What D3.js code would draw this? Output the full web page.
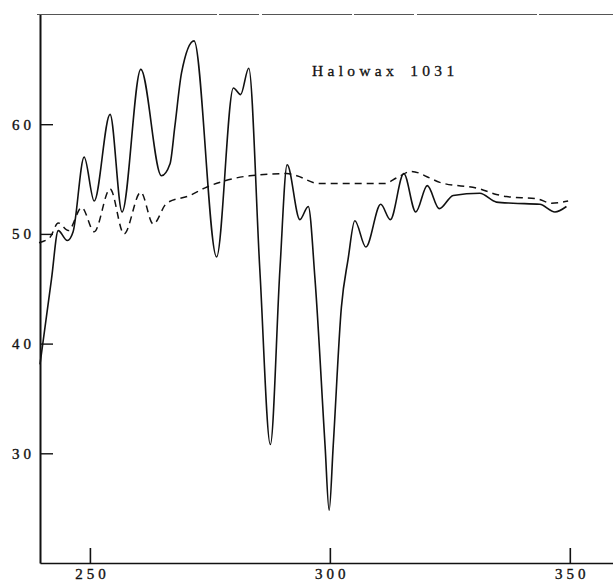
<!DOCTYPE html>
<html>
<head>
<meta charset="utf-8">
<script src="https://cdn.jsdelivr.net/npm/d3@7"></script>
<style>
  html, body { margin: 0; padding: 0; background: #fff; }
  svg { display: block; }
  text { font-family: "Liberation Serif", "DejaVu Serif", serif; fill: #111; }
</style>
</head>
<body>
<svg id="chart" width="613" height="583"></svg>
<script>
// ---- data ----
const title = "Halowax 1031";
const xTicks = [250, 300, 350];
const yTicks = [30, 40, 50, 60];

// solid trace: wavelength, value
const solidX = [239.6, 242.0, 243.4, 245.3, 246.5, 248.8, 250.9, 254.2, 256.7, 260.6,
  264.9, 266.7, 267.7, 269.1, 271.7, 276.4, 279.9, 281.4, 283.1, 285.4,
  287.6, 289.6, 291.1, 293.75, 295.5, 296.9, 299.0, 299.85, 300.7, 302.4,
  303.8, 305.2, 307.5, 310.6, 312.6, 315.4, 317.9, 320.3, 322.8, 325.7,
  331.25, 334.7, 338.2, 343.75, 346.9, 349.3];
const solidY = [38.1, 45.9, 50.3, 49.4, 50.2, 57.0, 53.0, 60.9, 52.0, 65.0,
  55.3, 56.4, 59.8, 64.7, 67.6, 47.9, 63.3, 62.7, 65.1, 46.8,
  30.8, 46.8, 56.3, 51.3, 52.5, 45.9, 30.7, 24.8, 30.7, 43.3,
  47.7, 51.2, 48.8, 52.7, 51.3, 55.5, 52.0, 54.4, 52.3, 53.5,
  53.7, 52.9, 52.8, 52.7, 52.0, 52.5];

// dashed trace
const dashX = [239.4, 241.7, 243.4, 245.5, 248.3, 250.9, 254.2, 257.1, 260.6, 263.2,
  266.0, 270.8, 274.0, 277.8, 283.3, 291.0, 293.1, 297.6, 311.5, 313.9,
  317.0, 320.8, 322.9, 331.25, 334.7, 336.8, 343.1, 346.2, 349.65];
const dashY = [49.2, 49.7, 51.0, 50.3, 52.4, 50.2, 54.1, 50.0, 53.8, 50.9,
  52.8, 53.5, 54.2, 54.8, 55.3, 55.5, 55.3, 54.6, 54.6, 55.1,
  55.7, 55.1, 54.7, 54.1, 53.6, 53.4, 53.2, 52.8, 53.0];

// ---- drawing ----
const svg = d3.select("#chart");
const mLeft = 40, mRight = 613, mTop = 14.5, mBottom = 563;

const x = d3.scaleLinear().domain([239.6, 359]).range([mLeft, mRight]);
const y = d3.scaleLinear().domain([20, 70]).range([mBottom, mTop]);

// top border (faint scanned rule)
svg.append("line")
  .attr("x1", 37).attr("x2", mRight).attr("y1", mTop).attr("y2", mTop)
  .attr("stroke", "#555").attr("stroke-width", 1.1)
  .attr("stroke-dasharray", "180,2,40,3,90,2,60,3,120,2,90");

// x axis
const xAxis = d3.axisBottom(x).tickValues(xTicks).tickSizeInner(-15).tickSizeOuter(0).tickPadding(5);
const gx = svg.append("g").attr("transform", `translate(0,${mBottom})`).call(xAxis);
gx.select(".domain").attr("stroke", "#111").attr("stroke-width", 1.6);
gx.selectAll(".tick line").attr("stroke", "#111").attr("stroke-width", 1.6);
gx.selectAll(".tick text")
  .style("font-family", '"Liberation Serif", serif')
  .style("font-size", "15px").style("letter-spacing", "4px")
  .attr("dx", "2px").attr("fill", "#111")
  .attr("stroke", "#111").attr("stroke-width", 0.35);

// y axis
const yAxis = d3.axisLeft(y).tickValues(yTicks).tickSizeInner(-13).tickSizeOuter(0).tickPadding(5);
const gy = svg.append("g").attr("transform", `translate(${mLeft},0)`).call(yAxis);
gy.select(".domain").attr("stroke", "#111").attr("stroke-width", 2);
gy.selectAll(".tick line").attr("stroke", "#111").attr("stroke-width", 1.4);
gy.selectAll(".tick text")
  .style("font-family", '"Liberation Serif", serif')
  .style("font-size", "15px").style("letter-spacing", "4px")
  .attr("fill", "#111")
  .attr("stroke", "#111").attr("stroke-width", 0.35);

// traces
const solidData = solidX.map((v, i) => [v, solidY[i]]);
const dashData = dashX.map((v, i) => [v, dashY[i]]);
const line = d3.line().x(d => x(d[0])).y(d => y(d[1])).curve(d3.curveMonotoneX);

svg.append("path").datum(dashData)
  .attr("d", line).attr("fill", "none")
  .attr("stroke", "#111").attr("stroke-width", 1.5)
  .attr("stroke-dasharray", "7,5");

svg.append("path").datum(solidData)
  .attr("d", line).attr("fill", "none")
  .attr("stroke", "#111").attr("stroke-width", 1.6)
  .attr("stroke-linejoin", "round");

// title
svg.append("text")
  .attr("x", 312).attr("y", 76)
  .style("font-size", "15.5px").style("letter-spacing", "4.3px").style("word-spacing", "4px")
  .attr("stroke", "#111").attr("stroke-width", 0.3)
  .text(title);
</script>
</body>
</html>
